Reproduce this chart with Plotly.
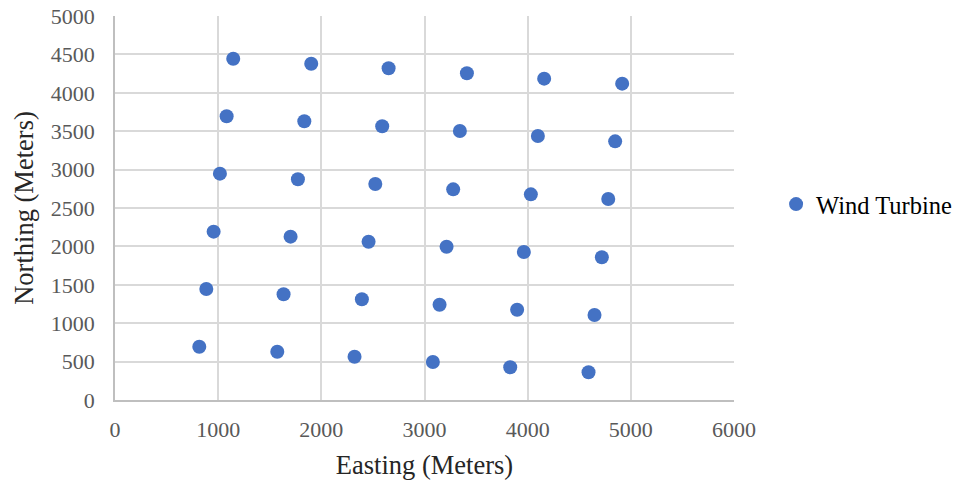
import plotly.graph_objects as go

easting = [1146, 1902, 2652, 3411, 4160, 4916,
           1082, 1835, 2590, 3343, 4099, 4848,
           1017, 1773, 2523, 3278, 4031, 4781,
           956, 1702, 2458, 3214, 3963, 4719,
           885, 1634, 2393, 3146, 3898, 4648,
           817, 1573, 2322, 3081, 3831, 4590]
northing = [4444, 4379, 4319, 4254, 4184, 4119,
            3694, 3629, 3564, 3503, 3438, 3368,
            2947, 2874, 2812, 2743, 2678, 2617,
            2192, 2127, 2061, 1996, 1927, 1858,
            1445, 1376, 1311, 1241, 1176, 1107,
            694, 629, 564, 495, 426, 361]
series_name = "Wind Turbine"

font = "Liberation Serif, Times New Roman, serif"

fig = go.Figure()
fig.add_trace(go.Scatter(x=easting, y=northing, mode="markers", name=series_name,
                         marker=dict(color="#4472C4", size=14, line=dict(width=0)),
                         showlegend=True))

fig.update_layout(
    width=964, height=483,
    margin=dict(l=115, r=230, t=16, b=83, autoexpand=False),
    plot_bgcolor="white", paper_bgcolor="white",
    font=dict(family=font, size=22, color="#595959"),
    showlegend=True,
    legend=dict(x=1.068, y=0.51, xanchor="left", yanchor="middle",
                font=dict(family=font, size=24.5, color="#000000")),
    xaxis=dict(range=[0, 6000], dtick=1000, showgrid=True, gridcolor="#d9d9d9", gridwidth=1.5,
               showline=True, linecolor="#bfbfbf", linewidth=1.5, zeroline=False,
               ticks="", ticklen=0, automargin=False, ticklabelstandoff=9,
               ticklabeloverflow="allow",
               title=dict(text="Easting (Meters)", font=dict(family=font, size=26.5, color="#262626"), standoff=14),
               tickfont=dict(family=font, size=22, color="#595959")),
    yaxis=dict(range=[0, 5000], dtick=500, showgrid=True, gridcolor="#d9d9d9", gridwidth=1.5,
               showline=True, linecolor="#bfbfbf", linewidth=1.5, zeroline=False,
               ticks="", ticklen=0, automargin=False, ticklabelstandoff=14,
               ticklabeloverflow="allow",
               title=dict(text="Northing (Meters)", font=dict(family=font, size=26.5, color="#262626"), standoff=10),
               tickfont=dict(family=font, size=22, color="#595959")),
)
fig.write_html("out.html", config={"displayModeBar": False},
               post_script="document.body.style.margin='0';document.body.style.overflow='hidden';")
